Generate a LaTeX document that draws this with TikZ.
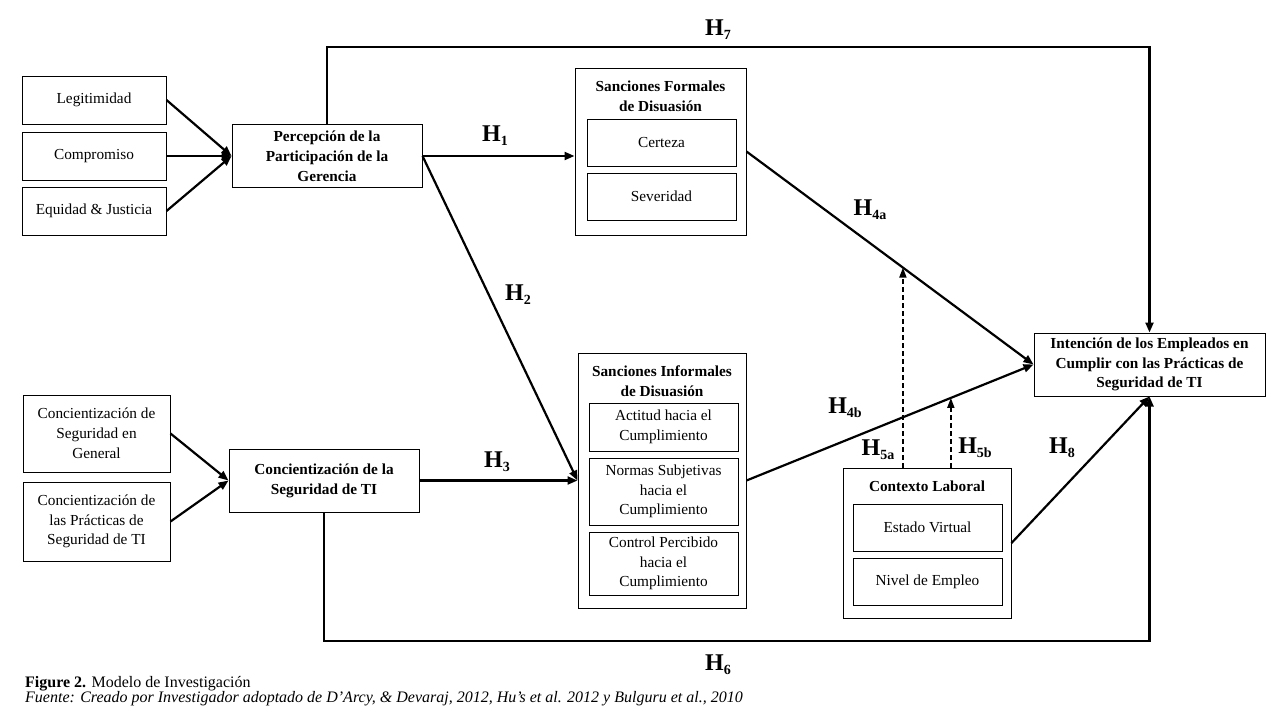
\documentclass[tikz,border=0pt]{standalone}
\usepackage{fontspec}
\setmainfont{Liberation Serif}
\usetikzlibrary{arrows.meta,calc}
\newcommand\Hy[1]{H\raisebox{-4pt}{\fontsize{14}{14}\selectfont\bfseries #1}}
\begin{document}
\begin{tikzpicture}[x=1pt,y=-1pt,
 box/.style={draw,line width=1pt,inner sep=0pt,align=center,font=\fontsize{15.3}{19.8}\selectfont},
 bbox/.style={box,font=\bfseries\fontsize{15.3}{19.8}\selectfont},
 ttl/.style={inner sep=0pt,align=center,font=\bfseries\fontsize{15.3}{19.8}\selectfont},
 con/.style={line width=2.2pt,-{Triangle[length=10pt,width=8pt]}},
 dcon/.style={line width=1.8pt,dash pattern=on 5pt off 3pt,-{Triangle[length=10pt,width=7pt]}},
 hlab/.style={inner sep=0pt,font=\bfseries\fontsize{24}{24}\selectfont},
 captxt/.style={inner sep=0pt,anchor=base west,font=\fontsize{16}{16}\selectfont}]
\useasboundingbox (0,0) rectangle (1280,720);
% left inputs
\node[box,minimum width=144,minimum height=48] (leg) at (94,100) {Legitimidad};
\node[box,minimum width=144,minimum height=48] (comp) at (94,156) {Compromiso};
\node[box,minimum width=144,minimum height=48] (equ) at (94,211) {Equidad \& Justicia};
\node[bbox,minimum width=190,minimum height=63] (perc) at (327,156) {Percepción de la\\Participación de la\\Gerencia};
\node[box,minimum width=147,minimum height=77] (gen) at (96.5,433.5) {Concientización de\\Seguridad en\\General};
\node[box,minimum width=147,minimum height=79] (prac) at (96.5,521.5) {Concientización de\\las Prácticas de\\Seguridad de TI};
\node[bbox,minimum width=190,minimum height=63] (ti) at (324,480.5) {Concientización de la\\Seguridad de TI};
% formal sanctions
\node[box,minimum width=171,minimum height=167] (form) at (660.5,151.5) {};
\node[ttl] (formT) at (660.5,96) {Sanciones Formales\\de Disuasión};
\node[box,minimum width=149,minimum height=47] (cert) at (661.5,142.5) {Certeza};
\node[box,minimum width=149,minimum height=47] (sev) at (661.5,196.5) {Severidad};
% informal sanctions
\node[box,minimum width=168,minimum height=255] (inf) at (662,480.5) {};
\node[ttl] (infT) at (662,381) {Sanciones Informales\\de Disuasión};
\node[box,minimum width=149,minimum height=48] (act) at (663.5,427) {Actitud hacia el\\Cumplimiento};
\node[box,minimum width=149,minimum height=67] (norm) at (663.5,491.5) {Normas Subjetivas\\hacia el\\Cumplimiento};
\node[box,minimum width=149,minimum height=63] (ctrl) at (663.5,563.5) {Control Percibido\\hacia el\\Cumplimiento};
% outcome
\node[bbox,minimum width=231,minimum height=63] (int) at (1149.5,364.5) {Intención de los Empleados en\\Cumplir con las Prácticas de\\Seguridad de TI};
% context
\node[box,minimum width=168,minimum height=150] (ctx) at (927,543) {};
\node[ttl] (ctxT) at (927,486) {Contexto Laboral};
\node[box,minimum width=149,minimum height=47] (est) at (927.5,527.5) {Estado Virtual};
\node[box,minimum width=149,minimum height=47] (niv) at (927.5,581.5) {Nivel de Empleo};
% coordinates
\coordinate (top) at (700,47);
\coordinate (bot) at (700,641);
\coordinate (h5aT) at ($(form.east)!0.545!(int.west)$);
\coordinate (h5bT) at ($(inf.east)!0.712!(int.west)$);
% connectors
\draw[con] (leg.east) -- (perc.west);
\draw[con] (comp.east) -- (perc.west);
\draw[con] (equ.east) -- (perc.west);
\draw[con] (gen.east) -- (ti.west);
\draw[con] (prac.east) -- (ti.west);
\draw[con] (perc.north) |- (top) -| (int.north);
\draw[con] (perc.east) -- (perc.east -| form.west);
\draw[con] (perc.east) -- (inf.west);
\draw[con] (ti.east) -- (inf.west);
\draw[con] (ti.south) |- (bot) -| (int.south);
\draw[con] (form.east) -- (int.west);
\draw[con] (inf.east) -- (int.west);
\draw[con] (ctx.east) -- (int.south);
\draw[dcon] (h5aT |- ctx.north) -- (h5aT);
\draw[dcon] (h5bT |- ctx.north) -- (h5bT);
% labels
\node[hlab] (l7) at (718,30) {\Hy{7}};
\node[hlab] (l1) at (495,136) {\Hy{1}};
\node[hlab] (l2) at (518,295) {\Hy{2}};
\node[hlab] (l3) at (497,462) {\Hy{3}};
\node[hlab] (l4a) at (870,210) {\Hy{4a}};
\node[hlab] (l4b) at (845,408) {\Hy{4b}};
\node[hlab] (l5a) at (878,450) {\Hy{5a}};
\node[hlab] (l5b) at (975,448) {\Hy{5b}};
\node[hlab] (l8) at (1062,448) {\Hy{8}};
\node[hlab] (l6) at (718,665) {\Hy{6}};
% caption
\node[captxt] (c1) at (25,687) {\textbf{Figure 2.} Modelo de Investigación};
\node[captxt] (c2) at (25,702) {\itshape Fuente: Creado por Investigador adoptado de D’Arcy, \& Devaraj, 2012, Hu’s et al. 2012 y Bulguru et al., 2010};
\end{tikzpicture}
\end{document}
